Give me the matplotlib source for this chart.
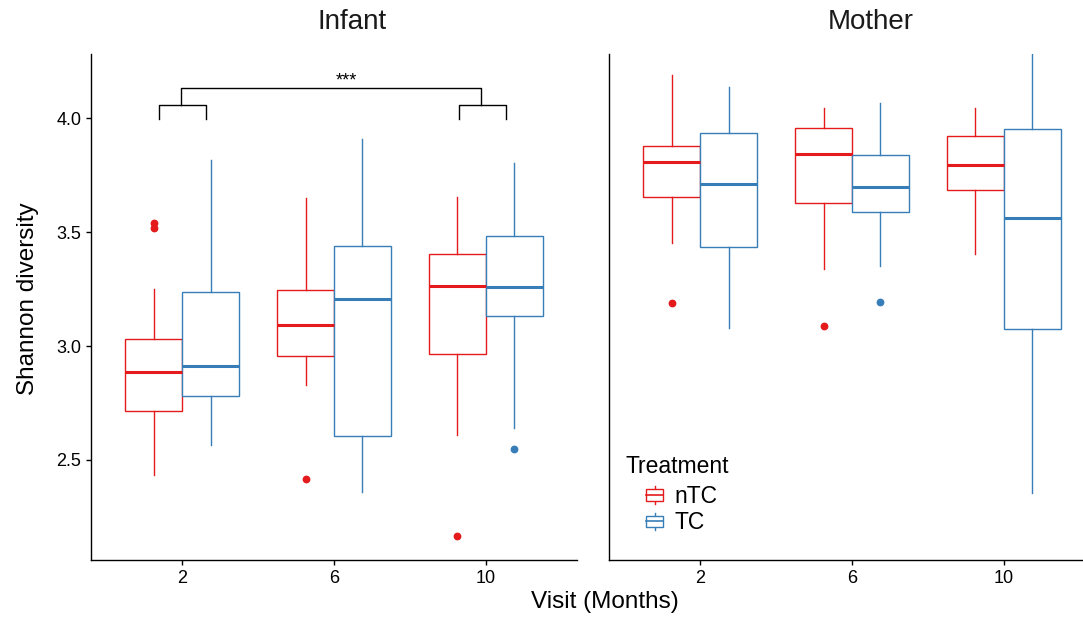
import matplotlib
matplotlib.use("Agg")
import matplotlib.pyplot as plt
from matplotlib.patches import Patch, Rectangle
from matplotlib.lines import Line2D
from matplotlib.legend_handler import HandlerBase

plt.rcParams['font.family'] = ['Liberation Sans', 'DejaVu Sans']

visits = ["2", "6", "10"]
treatments = ["nTC", "TC"]

# Infant, nTC
inf_ntc_low = [2.433, 2.830, 2.611]
inf_ntc_q1 = [2.714, 2.955, 2.964]
inf_ntc_med = [2.888, 3.091, 3.264]
inf_ntc_q3 = [3.030, 3.244, 3.406]
inf_ntc_high = [3.250, 3.652, 3.656]
inf_ntc_out = [[3.541, 3.520], [2.418], [2.164]]

# Infant, TC
inf_tc_low = [2.565, 2.361, 2.641]
inf_tc_q1 = [2.782, 2.603, 3.133]
inf_tc_med = [2.911, 3.206, 3.259]
inf_tc_q3 = [3.239, 3.439, 3.485]
inf_tc_high = [3.815, 3.911, 3.805]
inf_tc_out = [[], [], [2.550]]

# Mother, nTC
mom_ntc_low = [3.452, 3.338, 3.403]
mom_ntc_q1 = [3.656, 3.630, 3.683]
mom_ntc_med = [3.808, 3.845, 3.795]
mom_ntc_q3 = [3.880, 3.959, 3.921]
mom_ntc_high = [4.191, 4.047, 4.045]
mom_ntc_out = [[3.191], [3.088], []]

# Mother, TC
mom_tc_low = [3.080, 3.353, 2.353]
mom_tc_q1 = [3.436, 3.588, 3.076]
mom_tc_med = [3.712, 3.700, 3.564]
mom_tc_q3 = [3.933, 3.838, 3.952]
mom_tc_high = [4.136, 4.065, 4.330]
mom_tc_out = [[], [3.194], []]

red = "#E41A1C"
blue = "#377EB8"

W, H = 1083, 617
fig = plt.figure(figsize=(W / 100, H / 100), dpi=100)
bot = 559.7
top = 54
ax1 = fig.add_axes([91 / W, 1 - bot / H, 486 / W, (bot - top) / H])
ax2 = fig.add_axes([609 / W, 1 - bot / H, 486 / W, (bot - top) / H])


def draw(ax, lows, q1s, meds, q3s, highs, outs, color, offset):
    stats = []
    for i in range(len(visits)):
        stats.append(dict(whislo=lows[i], q1=q1s[i], med=meds[i], q3=q3s[i],
                          whishi=highs[i], fliers=outs[i]))
    pos = [i + 1 + offset for i in range(len(visits))]
    ax.bxp(stats, positions=pos, widths=0.375, showcaps=False, patch_artist=True,
           manage_ticks=False,
           boxprops=dict(facecolor='white', edgecolor=color, linewidth=1.0),
           whiskerprops=dict(color=color, linewidth=1.0),
           medianprops=dict(color=color, linewidth=2.2, solid_capstyle='butt'),
           flierprops=dict(marker='o', markerfacecolor=color, markeredgecolor=color,
                           markersize=4.6, linestyle='none'))


draw(ax1, inf_ntc_low, inf_ntc_q1, inf_ntc_med, inf_ntc_q3, inf_ntc_high, inf_ntc_out, red, -0.1875)
draw(ax1, inf_tc_low, inf_tc_q1, inf_tc_med, inf_tc_q3, inf_tc_high, inf_tc_out, blue, 0.1875)
draw(ax2, mom_ntc_low, mom_ntc_q1, mom_ntc_med, mom_ntc_q3, mom_ntc_high, mom_ntc_out, red, -0.1875)
draw(ax2, mom_tc_low, mom_tc_q1, mom_tc_med, mom_tc_q3, mom_tc_high, mom_tc_out, blue, 0.1875)

for ax in (ax1, ax2):
    ax.set_xlim(0.4, 3.6)
    ax.set_ylim(2.062, 4.282)
    ax.set_xticks([1, 2, 3])
    ax.set_xticklabels(visits)
    for s in ['top', 'right']:
        ax.spines[s].set_visible(False)
    for s in ['left', 'bottom']:
        ax.spines[s].set_linewidth(1.0)
        ax.spines[s].set_color('black')
    ax.tick_params(axis='both', length=3.6, width=1.0, labelsize=13, pad=3.5, colors='black')

ax1.set_yticks([2.5, 3.0, 3.5, 4.0])
ax1.set_yticklabels(["2.5", "3.0", "3.5", "4.0"])
ax2.set_yticks([])

# significance brackets
ax1.plot([0.845, 0.845, 1.155, 1.155], [3.997, 4.060, 4.060, 3.997], color='black', lw=1.0, clip_on=False)
ax1.plot([2.82, 2.82, 3.13, 3.13], [3.997, 4.060, 4.060, 3.997], color='black', lw=1.0, clip_on=False)
ax1.plot([0.99, 0.99, 2.97, 2.97], [4.060, 4.134, 4.134, 4.060], color='black', lw=1.0, clip_on=False)
ax1.text(2.08, 4.142, "***", ha='center', va='baseline', fontsize=13)

# titles and axis labels
fig.text(352 / W, 1 - 22 / H, "Infant", ha='center', va='center', fontsize=20, color='#1A1A1A')
fig.text(871 / W, 1 - 22 / H, "Mother", ha='center', va='center', fontsize=20, color='#1A1A1A')
fig.text(605 / W, 1 - 602 / H, "Visit (Months)", ha='center', va='center', fontsize=17.5)
fig.text(28 / W, 1 - 299 / H, "Shannon diversity", ha='center', va='center', fontsize=17.5, rotation=90)


class BoxHandler(HandlerBase):
    def create_artists(self, legend, orig_handle, xdescent, ydescent, width, height, fontsize, trans):
        c = orig_handle.get_edgecolor()
        x0 = -xdescent
        cx = x0 + width / 2
        cy = -ydescent + height / 2
        bh = height * 0.7
        rect = Rectangle((x0, cy - bh / 2), width, bh, facecolor='white', edgecolor=c, lw=1.0, transform=trans)
        med = Line2D([x0, x0 + width], [cy, cy], color=c, lw=1.2, transform=trans)
        wl = Line2D([cx, cx], [cy - height * 0.55, cy - bh / 2], color=c, lw=1.0, transform=trans)
        wh = Line2D([cx, cx], [cy + bh / 2, cy + height * 0.55], color=c, lw=1.0, transform=trans)
        return [wl, wh, rect, med]


fig.text(625 / W, 1 - 473 / H, "Treatment", ha='left', va='baseline', fontsize=16.5)
handles = [Patch(edgecolor=red, facecolor='white'), Patch(edgecolor=blue, facecolor='white')]
fig.legend(handles=handles, labels=treatments, loc='upper left',
           bbox_to_anchor=(646 / W, 1 - 485 / H), frameon=False, fontsize=16.5,
           handler_map={Patch: BoxHandler()}, borderpad=0, borderaxespad=0,
           handlelength=0.75, handletextpad=0.5, labelspacing=0.15)

fig.savefig("out.png", dpi=100)
